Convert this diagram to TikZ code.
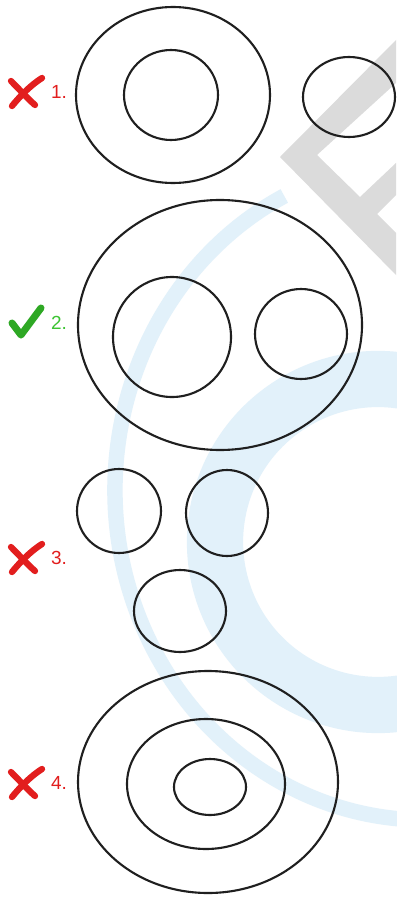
\documentclass[tikz,border=0pt]{standalone}
\usepackage{fontspec}
\setmainfont{Liberation Sans}
\usetikzlibrary{calc}

\definecolor{wrongred}{RGB}{226,30,30}
\definecolor{rightgreen}{RGB}{60,196,50}
\definecolor{markgreen}{RGB}{46,168,36}
\definecolor{wmblue}{RGB}{226,241,250}
\definecolor{wmgray}{RGB}{219,219,219}

\tikzset{
  ring/.style={line width=3pt, black!88},
  numtext/.style={anchor=west, inner sep=0pt, font=\fontsize{27}{30}\selectfont},
  crossline/.style={line width=9pt, wrongred, line cap=round},
}

\begin{document}
\begin{tikzpicture}[x=0.05cm, y=-0.05cm]
    \fill[white] (0,0) rectangle (396,898);
    \useasboundingbox (0,0) rectangle (396,898);

    % watermark
    \draw[wmblue, line width=22pt] (425,490) ++(243:310 and 330)
      arc[start angle=243, end angle=95, x radius=310, y radius=330];
    \draw[wmblue, line width=80pt] (378,542) ++(280:163)
      arc[start angle=280, end angle=80, radius=163];
    \fill[wmgray] (396,40) -- (280,157) -- (396,275) -- (396,233) -- (377,214)
      -- (396,195) -- (396,163) -- (360,197) -- (317,155) -- (396,83) -- cycle;

    % centres of the ellipses
    \coordinate (A) at (173,95);
    \coordinate (Ain) at (171,95);
    \coordinate (Aout) at (349,97);
    \coordinate (B) at (220,325);
    \coordinate (Bl) at (172,337);
    \coordinate (Br) at (301,334);
    \coordinate (Cl) at (119,511);
    \coordinate (Cr) at (227,513);
    \coordinate (Cb) at (180,611);
    \coordinate (D) at (208,782);
    \coordinate (Dmid) at (206,784);
    \coordinate (Din) at (210,787);

    % 1.
    \draw[ring] (A) ellipse [x radius=97, y radius=88];
    \draw[ring] (Ain) ellipse [x radius=47, y radius=45];
    \draw[ring] (Aout) ellipse [x radius=46, y radius=40];
    % 2.
    \draw[ring] (B) ellipse [x radius=142, y radius=125];
    \draw[ring] (Bl) ellipse [x radius=59, y radius=60];
    \draw[ring] (Br) ellipse [x radius=46, y radius=45];
    % 3.
    \draw[ring] (Cl) ellipse [x radius=42, y radius=42];
    \draw[ring] (Cr) ellipse [x radius=41, y radius=43];
    \draw[ring] (Cb) ellipse [x radius=46, y radius=41];
    % 4.
    \draw[ring] (D) ellipse [x radius=130, y radius=111];
    \draw[ring] (Dmid) ellipse [x radius=79, y radius=65];
    \draw[ring] (Din) ellipse [x radius=36, y radius=28];

    % wrong answers
    \foreach \yy/\nn in {92/1, 558/3, 783/4} {
      \draw[crossline] (12,\yy+14) .. controls (21,\yy+3) and (31,\yy-7) .. (42,\yy-14);
      \draw[crossline] (11,\yy-11) .. controls (19,\yy-3) and (27,\yy+6) .. (35,\yy+13);
      \node[numtext, wrongred] (num\nn) at (51,\yy) {\nn.};
    }
    % right answer
    \draw[markgreen, line width=10pt, line cap=round, line join=round]
      (12,323) -- (21,335) -- (41,308);
    \node[numtext, rightgreen] (num2) at (51,323) {2.};
\end{tikzpicture}
\end{document}
